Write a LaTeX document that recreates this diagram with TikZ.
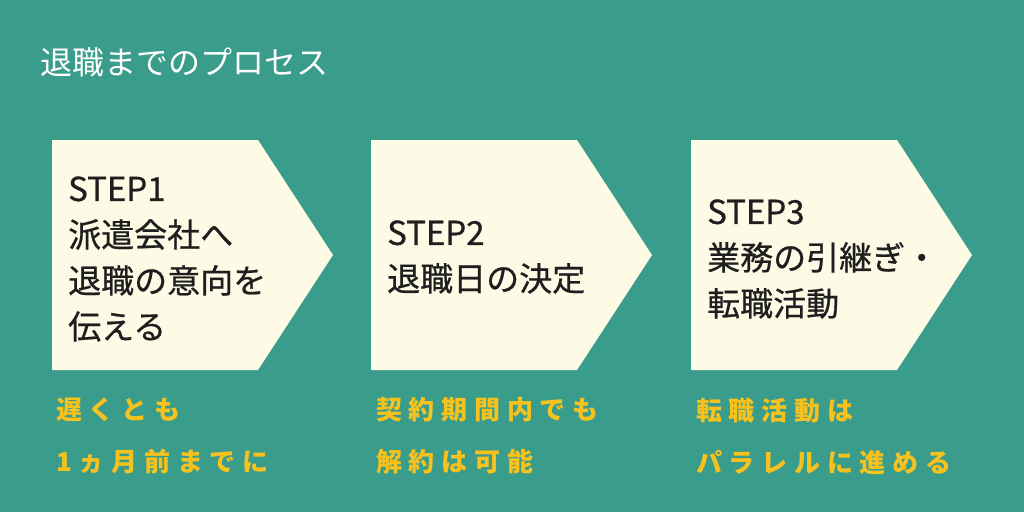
\documentclass[tikz,border=0pt]{standalone}
\usepackage{fontspec}
\setmainfont{Noto Sans CJK JP}
\newfontfamily\jpy[LetterSpace=26]{Noto Sans CJK JP}
\newfontfamily\jpb[FakeBold=0.6]{Noto Sans CJK JP}
\definecolor{bg}{HTML}{3A9C8A}
\definecolor{cream}{HTML}{FDFAE6}
\definecolor{ylw}{HTML}{F7C11E}
\definecolor{ink}{HTML}{1E1E1E}
\tikzset{
 stepshape/.style={fill=cream,draw=none},
 body/.style={anchor=west,inner sep=0pt,text=ink,font=\jpb\fontsize{33}{46}\selectfont,align=left},
 note/.style={anchor=west,inner sep=0pt,text=ylw,font=\jpy\fontsize{26}{52}\selectfont\bfseries,align=left},
}
\begin{document}
\begin{tikzpicture}[x=1pt,y=-1pt]
\fill[bg] (0,0) rectangle (1024,512);
\useasboundingbox (0,0) rectangle (1024,512);
\node[anchor=west,inner sep=0pt,text=white,font=\fontsize{32}{34}\selectfont] (title) at (40,62) {退職までのプロセス};
\foreach \n/\x in {a/52,b/371,c/691}{
 \fill[stepshape] (\x,140) -- (\x+206,140) -- (\x+281,255) -- (\x+206,370) -- (\x,370) -- cycle;
}
\node[body] (t1) at (68,259) {STEP1\\派遣会社へ\\退職の意向を\\伝える};
\node[body] (t2) at (387,257) {STEP2\\退職日の決定};
\node[body] (t3) at (707,259) {STEP3\\業務の引継ぎ・\\転職活動};
\node[note] (n1) at (56,436) {遅くとも\\1ヵ月前までに};
\node[note] (n2) at (376,436) {契約期間内でも\\解約は可能};
\node[note] (n3) at (696,436) {転職活動は\\パラレルに進める};
\end{tikzpicture}
\end{document}
